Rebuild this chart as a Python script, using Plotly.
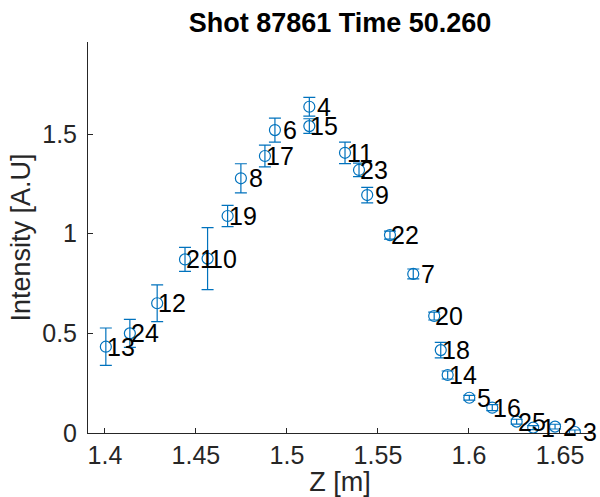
import plotly.graph_objects as go

labels = [13, 24, 12, 21, 10, 19, 8, 17, 6, 4, 15, 11, 23, 9, 22, 7, 20, 18, 14, 5, 16, 25, 1, 2, 3]
z = [1.4005, 1.4137, 1.4287, 1.4440, 1.4564, 1.4674, 1.4747, 1.4879, 1.4934, 1.5123, 1.5123,
     1.5319, 1.5396, 1.5441, 1.5566, 1.5694, 1.5809, 1.5845, 1.5883, 1.6002, 1.6128, 1.6262,
     1.6353, 1.6473, 1.6582]
intensity = [0.433, 0.500, 0.651, 0.871, 0.875, 1.089, 1.278, 1.390, 1.520, 1.637, 1.540,
             1.406, 1.320, 1.194, 0.993, 0.798, 0.587, 0.416, 0.291, 0.177, 0.127, 0.057,
             0.027, 0.032, 0.005]
err = [0.094, 0.070, 0.092, 0.060, 0.156, 0.053, 0.073, 0.055, 0.060, 0.047, 0.037,
       0.054, 0.034, 0.039, 0.020, 0.025, 0.020, 0.039, 0.020, 0.012, 0.015, 0.012,
       0.010, 0.012, 0.010]

blue = "#0072BD"
axc = "#262626"
font = "Liberation Sans, Arial, sans-serif"

fig = go.Figure()
fig.add_trace(go.Scatter(
    x=z, y=intensity, mode="markers",
    marker=dict(symbol="circle-open", size=11, color=blue, line=dict(width=1.2, color=blue)),
    error_y=dict(type="data", array=err, visible=True, color=blue, thickness=1.2, width=6),
    showlegend=False,
))

for zi, yi, lab in zip(z, intensity, labels):
    fig.add_annotation(x=zi, y=yi, text=str(lab), showarrow=False,
                       xanchor="center", yanchor="middle", xshift=15, yshift=0,
                       font=dict(size=25, color="black", family=font))

fig.update_layout(
    width=600, height=497,
    margin=dict(l=88, r=8, t=42, b=64),
    paper_bgcolor="white", plot_bgcolor="white",
    font=dict(family=font, color=axc),
    title=dict(text="<b>Shot 87861 Time 50.260</b>", x=0.5, xanchor="center",
               xref="paper", y=1, yref="paper", yanchor="bottom", pad=dict(b=10),
               font=dict(size=27, color="black", family=font)),
    xaxis=dict(range=[1.3907, 1.6676], tickvals=[1.4, 1.45, 1.5, 1.55, 1.6, 1.65],
               ticktext=["1.4", "1.45", "1.5", "1.55", "1.6", "1.65"],
               ticks="inside", ticklen=5, tickcolor=axc, showline=True, linecolor=axc,
               linewidth=1, showgrid=False, zeroline=False, mirror=False,
               tickfont=dict(size=25, color=axc),
               title=dict(text="Z [m]", font=dict(size=27, color=axc), standoff=2)),
    yaxis=dict(range=[0, 1.962], tickvals=[0, 0.5, 1, 1.5], ticktext=["0", "0.5", "1", "1.5"],
               ticks="inside", ticklen=5, tickcolor=axc, showline=True, linecolor=axc,
               linewidth=1, showgrid=False, zeroline=False, mirror=False,
               ticklabelstandoff=5,
               tickfont=dict(size=25, color=axc),
               title=dict(text="Intensity [A.U]", font=dict(size=27, color=axc), standoff=3)),
)

fig.write_html("out.html")
